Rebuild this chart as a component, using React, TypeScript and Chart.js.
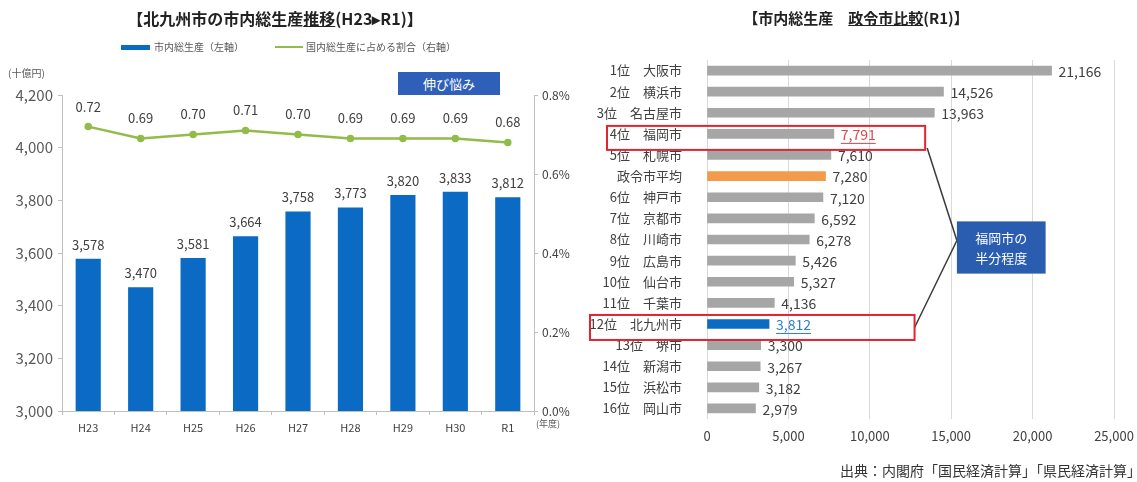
import React, { useEffect, useRef } from "react";
import { Chart, registerables } from "chart.js";

Chart.register(...registerables);

const FONT = "'Noto Sans CJK JP', 'Noto Sans', sans-serif";

// ---- Left chart data ----
const years = ["H23", "H24", "H25", "H26", "H27", "H28", "H29", "H30", "R1"];
const grossProduct = [3578, 3470, 3581, 3664, 3758, 3773, 3820, 3833, 3812];
const nationalShare = [0.72, 0.69, 0.7, 0.71, 0.7, 0.69, 0.69, 0.69, 0.68];
const leftAxisMin = 3000;
const leftAxisMax = 4200;
const leftAxisStep = 200;
const rightAxisMax = 0.8;
const rightAxisStep = 0.2;

// ---- Right chart data ----
const cityLabels = [
  "1位　大阪市",
  "2位　横浜市",
  "3位　名古屋市",
  "4位　福岡市",
  "5位　札幌市",
  "政令市平均",
  "6位　神戸市",
  "7位　京都市",
  "8位　川崎市",
  "9位　広島市",
  "10位　仙台市",
  "11位　千葉市",
  "12位　北九州市",
  "13位　堺市",
  "14位　新潟市",
  "15位　浜松市",
  "16位　岡山市",
];
const cityValues = [21166, 14526, 13963, 7791, 7610, 7280, 7120, 6592, 6278, 5426, 5327, 4136, 3812, 3300, 3267, 3182, 2979];
const cityAxisMax = 25000;
const cityAxisStep = 5000;

const FUKUOKA = 3;
const AVERAGE = 5;
const KITAKYUSHU = 12;

const BLUE = "#0b6bc4";
const GREEN = "#92bb4a";
const GRAY_BAR = "#a6a6a6";
const ORANGE = "#f39a4b";
const RED = "#e3252f";
const TEXT = "#404040";

const fmt = (v: number) => v.toLocaleString("en-US");

const leftLabelsPlugin = {
  id: "leftLabels",
  afterDatasetsDraw(chart: any) {
    const ctx = chart.ctx;
    ctx.save();
    ctx.font = "13px " + FONT;
    ctx.fillStyle = TEXT;
    ctx.textAlign = "center";
    ctx.textBaseline = "middle";
    chart.getDatasetMeta(0).data.forEach((el: any, i: number) => {
      ctx.fillText(fmt(grossProduct[i]), el.x, el.y - 14);
    });
    chart.getDatasetMeta(1).data.forEach((el: any, i: number) => {
      ctx.fillText(nationalShare[i].toFixed(2), el.x, el.y - 20);
    });
    ctx.restore();
  },
};

const rightLabelsPlugin = {
  id: "rightLabels",
  afterDatasetsDraw(chart: any) {
    const ctx = chart.ctx;
    ctx.save();
    ctx.font = "14px " + FONT;
    ctx.textAlign = "left";
    ctx.textBaseline = "middle";
    chart.getDatasetMeta(0).data.forEach((el: any, i: number) => {
      const txt = fmt(cityValues[i]);
      let color = TEXT;
      if (i === FUKUOKA) color = "#e0454a";
      if (i === KITAKYUSHU) color = "#2d7fd0";
      ctx.fillStyle = color;
      const x = el.x + 7;
      ctx.fillText(txt, x, el.y + 1);
      if (i === FUKUOKA || i === KITAKYUSHU) {
        const w = ctx.measureText(txt).width;
        ctx.strokeStyle = color;
        ctx.lineWidth = 1;
        ctx.beginPath();
        ctx.moveTo(x, el.y + 9.5);
        ctx.lineTo(x + w, el.y + 9.5);
        ctx.stroke();
      }
    });
    ctx.restore();
  },
};

const annotationPlugin = {
  id: "annot",
  afterDraw(chart: any) {
    const ctx = chart.ctx;
    const xs = chart.scales.x;
    const ys = chart.scales.y;
    const area = chart.chartArea;
    ctx.save();
    const y1 = ys.getPixelForValue(FUKUOKA);
    const b1 = { l: area.left - 100, r: xs.getPixelForValue(13400), t: y1 - 8, b: y1 + 16 };
    const y2 = ys.getPixelForValue(KITAKYUSHU);
    const b2 = { l: area.left - 117, r: xs.getPixelForValue(12750), t: y2 - 9, b: y2 + 16 };
    const bb = {
      l: xs.getPixelForValue(15350),
      r: xs.getPixelForValue(20800),
      t: ys.getPixelForValue(7) + 3,
      b: ys.getPixelForValue(9) + 13,
    };
    const joinY = (bb.t + bb.b) / 2 - 7;
    ctx.strokeStyle = "#3a3a3a";
    ctx.lineWidth = 1.5;
    ctx.beginPath();
    ctx.moveTo(b1.r + 2, b1.b - 2);
    ctx.lineTo(bb.l, joinY);
    ctx.lineTo(b2.r, (b2.t + b2.b) / 2);
    ctx.stroke();

    ctx.strokeStyle = RED;
    ctx.lineWidth = 2;
    [b1, b2].forEach((b) => ctx.strokeRect(b.l, b.t, b.r - b.l, b.b - b.t));

    ctx.fillStyle = "#2a5db0";
    ctx.fillRect(bb.l, bb.t, bb.r - bb.l, bb.b - bb.t);
    ctx.fillStyle = "#ffffff";
    ctx.font = "13px " + FONT;
    ctx.textAlign = "center";
    ctx.textBaseline = "middle";
    const cx = (bb.l + bb.r) / 2;
    const cy = (bb.t + bb.b) / 2;
    ctx.fillText("福岡市の", cx, cy - 9);
    ctx.fillText("半分程度", cx, cy + 11);
    ctx.restore();
  },
};

const LEFT_W = 580;
const RIGHT_W = 557;
const H = 482;

export default function App() {
  const leftRef = useRef<HTMLCanvasElement>(null);
  const rightRef = useRef<HTMLCanvasElement>(null);

  useEffect(() => {
    const left = new Chart(leftRef.current as HTMLCanvasElement, {
      type: "bar",
      data: {
        labels: years,
        datasets: [
          {
            type: "bar",
            label: "市内総生産（左軸）",
            data: grossProduct,
            backgroundColor: BLUE,
            yAxisID: "y",
            barPercentage: 0.48,
            categoryPercentage: 1,
            order: 2,
          },
          {
            type: "line",
            label: "国内総生産に占める割合（右軸）",
            data: nationalShare,
            borderColor: GREEN,
            backgroundColor: GREEN,
            borderWidth: 2.5,
            pointRadius: 2.5,
            pointBackgroundColor: GREEN,
            yAxisID: "y1",
            tension: 0,
            order: 1,
          } as any,
        ],
      },
      options: {
        responsive: false,
        animation: false,
        layout: { padding: { top: 95, left: 0, right: 0, bottom: 0 } },
        plugins: { legend: { display: false }, tooltip: { enabled: false }, title: { display: false } },
        scales: {
          x: {
            grid: { display: true, drawOnChartArea: false, tickLength: 4, color: "#bfbfbf" },
            border: { display: true, color: "#bfbfbf" },
            ticks: { color: TEXT, font: { family: FONT, size: 11 }, padding: 6 },
            afterFit: (s: any) => {
              s.height = 71;
            },
          },
          y: {
            position: "left",
            min: leftAxisMin,
            max: leftAxisMax,
            ticks: {
              stepSize: leftAxisStep,
              color: "#595959",
              font: { family: FONT, size: 15 },
              padding: 5,
              callback: (v: any) => fmt(Number(v)),
            },
            grid: { display: true, drawOnChartArea: false, tickLength: 4, color: "#bfbfbf" },
            border: { display: true, color: "#bfbfbf" },
            afterFit: (s: any) => {
              s.width = 62;
            },
          },
          y1: {
            position: "right",
            min: 0,
            max: rightAxisMax,
            ticks: {
              stepSize: rightAxisStep,
              color: TEXT,
              font: { family: FONT, size: 12 },
              padding: 4,
              callback: (v: any) => Number(v).toFixed(1) + "%",
            },
            grid: { display: true, drawOnChartArea: false, tickLength: 4, color: "#bfbfbf" },
            border: { display: true, color: "#bfbfbf" },
            afterFit: (s: any) => {
              s.width = LEFT_W - 534;
            },
          },
        },
      } as any,
      plugins: [leftLabelsPlugin],
    });

    const right = new Chart(rightRef.current as HTMLCanvasElement, {
      type: "bar",
      data: {
        labels: cityLabels,
        datasets: [
          {
            label: "市内総生産",
            data: cityValues,
            backgroundColor: cityValues.map((_, i) =>
              i === AVERAGE ? ORANGE : i === KITAKYUSHU ? BLUE : GRAY_BAR
            ),
            barThickness: 9,
          },
        ],
      },
      options: {
        indexAxis: "y",
        responsive: false,
        animation: false,
        layout: { padding: { top: 60, left: 0, right: 23, bottom: 0 } },
        plugins: { legend: { display: false }, tooltip: { enabled: false } },
        scales: {
          x: {
            min: 0,
            max: cityAxisMax,
            ticks: {
              stepSize: cityAxisStep,
              color: TEXT,
              font: { family: FONT, size: 13 },
              padding: 9,
              callback: (v: any) => fmt(Number(v)),
            },
            grid: { display: true, color: "#d9d9d9", drawTicks: false },
            border: { display: false },
            afterFit: (s: any) => {
              s.height = 63;
              s.paddingRight = 0;
              s.paddingLeft = 0;
            },
          },
          y: {
            ticks: { color: TEXT, font: { family: FONT, size: 13 }, padding: 17, autoSkip: false },
            grid: { display: false },
            border: { display: false },
            afterFit: (s: any) => {
              s.width = 127;
            },
          },
        },
      } as any,
      plugins: [rightLabelsPlugin, annotationPlugin],
    });

    return () => {
      left.destroy();
      right.destroy();
    };
  }, []);

  const abs = (s: React.CSSProperties): React.CSSProperties => ({ position: "absolute", ...s });

  return (
    <div
      style={{
        position: "absolute",
        left: 0,
        top: 0,
        width: 1137,
        height: H,
        overflow: "hidden",
        background: "#fff",
        fontFamily: FONT,
        color: "#222",
      }}
    >
      <canvas ref={leftRef} width={LEFT_W} height={H} style={abs({ left: 0, top: 0, width: LEFT_W, height: H })} />
      <canvas ref={rightRef} width={RIGHT_W} height={H} style={abs({ left: LEFT_W, top: 0, width: RIGHT_W, height: H })} />

      {/* Left title */}
      <div style={abs({ left: 0, top: 6, width: 550, textAlign: "center", fontSize: 16, fontWeight: "bold", lineHeight: "24px" })}>
        【北九州市の市内総生産<span style={{ textDecoration: "underline" }}>推移</span>(H23▸R1)】
      </div>
      {/* Legend */}
      <div style={abs({ left: 121, top: 45, width: 29, height: 5, background: BLUE })} />
      <div style={abs({ left: 154, top: 40, fontSize: 10, color: "#595959", lineHeight: "14px" })}>市内総生産（左軸）</div>
      <div style={abs({ left: 275, top: 46, width: 28, height: 2, background: GREEN })} />
      <div style={abs({ left: 306, top: 40, fontSize: 10, color: "#595959", lineHeight: "14px" })}>国内総生産に占める割合（右軸）</div>
      {/* Unit */}
      <div style={abs({ left: 8, top: 66, fontSize: 10, color: "#595959", lineHeight: "14px" })}>(十億円)</div>
      {/* Note box */}
      <div
        style={abs({
          left: 398,
          top: 72,
          width: 102,
          height: 23,
          background: "#2f5fb8",
          color: "#fff",
          fontSize: 13,
          lineHeight: "23px",
          textAlign: "center",
        })}
      >
        伸び悩み
      </div>
      <div style={abs({ left: 536, top: 417, fontSize: 9, color: "#595959", lineHeight: "14px" })}>(年度)</div>

      {/* Right title */}
      <div style={abs({ left: 740, top: 7, width: 232, textAlign: "center", fontSize: 15, fontWeight: "bold", lineHeight: "22px", whiteSpace: "nowrap" })}>
        【市内総生産　<span style={{ textDecoration: "underline" }}>政令市比較</span>(R1)】
      </div>
      {/* Source */}
      <div style={abs({ left: 840, top: 460, fontSize: 14, color: "#333", lineHeight: "20px", whiteSpace: "nowrap" })}>
        出典：内閣府「国民経済計算」「県民経済計算」
      </div>
    </div>
  );
}
